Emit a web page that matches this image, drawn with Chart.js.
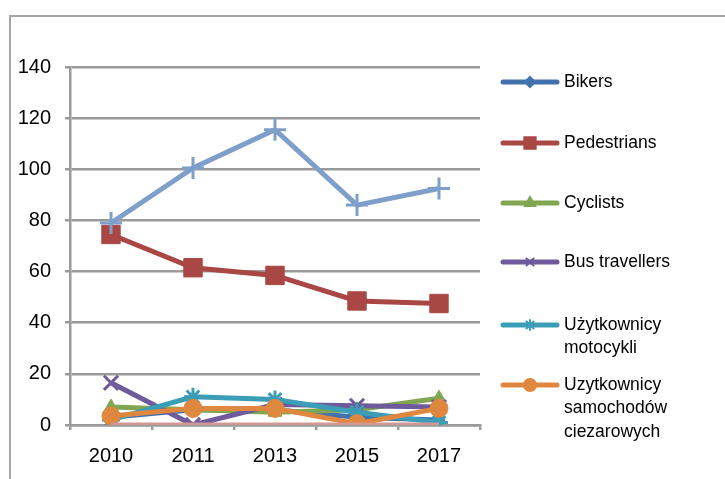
<!DOCTYPE html>
<html lang="pl">
<head>
    <meta charset="UTF-8">
    <title>Road users</title>
    <script src="https://cdn.jsdelivr.net/npm/chart.js"></script>
    <style>
        body {
            margin: 0;
            background: #fff;
        }
        .wrap {
            position: relative;
            width: 725px;
            height: 479px;
        }
    </style>
</head>
<body>
    <div class="wrap">
        <canvas id="wykres" width="725" height="479"></canvas>
    </div>

    <script>
        const lata = ['2010', '2011', '2013', '2015', '2017'];

        const bikers = [3, 6, 6, 3, 2];
        const pedestrians = [74.5, 61.5, 58.5, 48.5, 47.5];
        const cyclists = [7, 6, 5, 6, 10.5];
        const busTravellers = [16.5, 0, 8, 7.5, 7];
        const motocykle = [2, 11, 10, 5, 1];
        const ciezarowe = [3.5, 6.5, 6.5, 0.5, 6.5];
        const inni = [79, 100.5, 115.5, 86, 92.5];
        const zero = [0, 0, 0, 0, 0];

        const serie = [
            { label: 'Bikers', data: bikers, color: '#4272AE', marker: 'rectRot', r: 6, lr: 5, legend: true },
            { label: 'Pedestrians', data: pedestrians, color: '#A94744', marker: 'rect', r: 13, lr: 8, legend: true },
            { label: 'Cyclists', data: cyclists, color: '#80A651', marker: 'triangle', r: 8, lr: 6, legend: true },
            { label: 'Bus travellers', data: busTravellers, color: '#6F5A9B', marker: 'crossRot', r: 10, lr: 5, legend: true },
            { label: ['Użytkownicy', 'motocykli'], data: motocykle, color: '#3C9DB6', marker: 'star', r: 9, lr: 5, legend: true },
            { label: ['Uzytkownicy', 'samochodów', 'ciezarowych'], data: ciezarowe, color: '#E0873F', marker: 'circle', r: 9, lr: 6, legend: true },
            { label: 'Seria 7', data: inni, color: '#7F9FCB', marker: 'cross', r: 11, lr: 5, legend: false },
            { label: 'Seria 8', data: zero, color: '#D49894', marker: 'circle', r: 0, lr: 0, legend: false }
        ];

        const fontTxt = '"Liberation Sans", Arial, sans-serif';

        // ramka i legenda rysowane recznie
        const ramkaLegenda = {
            id: 'ramkaLegenda',
            beforeDraw(chart) {
                const ctx = chart.ctx;
                ctx.save();
                ctx.strokeStyle = '#a6a6a6';
                ctx.lineWidth = 2;
                ctx.beginPath();
                ctx.moveTo(10, 479);
                ctx.lineTo(10, 16);
                ctx.lineTo(725, 16);
                ctx.stroke();
                ctx.restore();
            },
            afterDraw(chart) {
                const ctx = chart.ctx;
                const ys = [82, 143, 203, 262, 325, 385];
                ctx.save();
                let k = 0;
                serie.forEach(s => {
                    if (!s.legend) return;
                    const y = ys[k++];
                    ctx.strokeStyle = s.color;
                    ctx.lineWidth = 5;
                    ctx.lineCap = 'round';
                    ctx.beginPath();
                    ctx.moveTo(503, y);
                    ctx.lineTo(557, y);
                    ctx.stroke();
                    ctx.fillStyle = s.color;
                    ctx.lineWidth = 2;
                    Chart.helpers.drawPoint(ctx, { pointStyle: s.marker, radius: s.lr, borderWidth: 2 }, 530, y);
                    if (s.marker !== 'cross' && s.marker !== 'crossRot' && s.marker !== 'star') ctx.fill();
                    ctx.fillStyle = '#000';
                    ctx.font = '17.5px ' + fontTxt;
                    ctx.textBaseline = 'middle';
                    const linie = Array.isArray(s.label) ? s.label : [s.label];
                    linie.forEach((t, i) => ctx.fillText(t, 564, y + i * 23.5));
                });
                ctx.restore();
            }
        };

        new Chart(document.getElementById('wykres'), {
            type: 'line',
            data: {
                labels: lata,
                datasets: serie.map((s, i) => ({
                    label: Array.isArray(s.label) ? s.label.join(' ') : s.label,
                    data: s.data,
                    borderColor: s.color,
                    backgroundColor: s.color,
                    borderWidth: 5,
                    pointStyle: s.marker,
                    pointRadius: s.r,
                    pointBorderWidth: (s.marker === 'cross' || s.marker === 'crossRot' || s.marker === 'star') ? 3 : 1,
                    pointBorderColor: s.color,
                    pointBackgroundColor: s.color,
                    fill: false,
                    tension: 0,
                    order: 10 - i
                }))
            },
            options: {
                responsive: false,
                animation: false,
                layout: {
                    padding: { top: 67, right: 245, left: 0, bottom: 0 }
                },
                plugins: {
                    legend: { display: false },
                    tooltip: { enabled: false }
                },
                scales: {
                    x: {
                        offset: true,
                        grid: {
                            offset: true,
                            drawOnChartArea: false,
                            drawTicks: true,
                            tickLength: 5,
                            color: '#9a9a9a',
                            lineWidth: 2.5
                        },
                        border: { color: '#9a9a9a', width: 2.5 },
                        ticks: {
                            color: '#000',
                            padding: 14,
                            font: { family: fontTxt, size: 20 }
                        },
                        afterFit(s) { s.height = 54; }
                    },
                    y: {
                        min: 0,
                        max: 140,
                        ticks: {
                            stepSize: 20,
                            color: '#000',
                            padding: 14,
                            font: { family: fontTxt, size: 20 }
                        },
                        grid: {
                            color: '#9a9a9a',
                            lineWidth: 2.5,
                            tickLength: 5
                        },
                        border: { color: '#9a9a9a', width: 2.5 },
                        afterFit(s) { s.width = 70; }
                    }
                }
            },
            plugins: [ramkaLegenda]
        });
    </script>
</body>
</html>
